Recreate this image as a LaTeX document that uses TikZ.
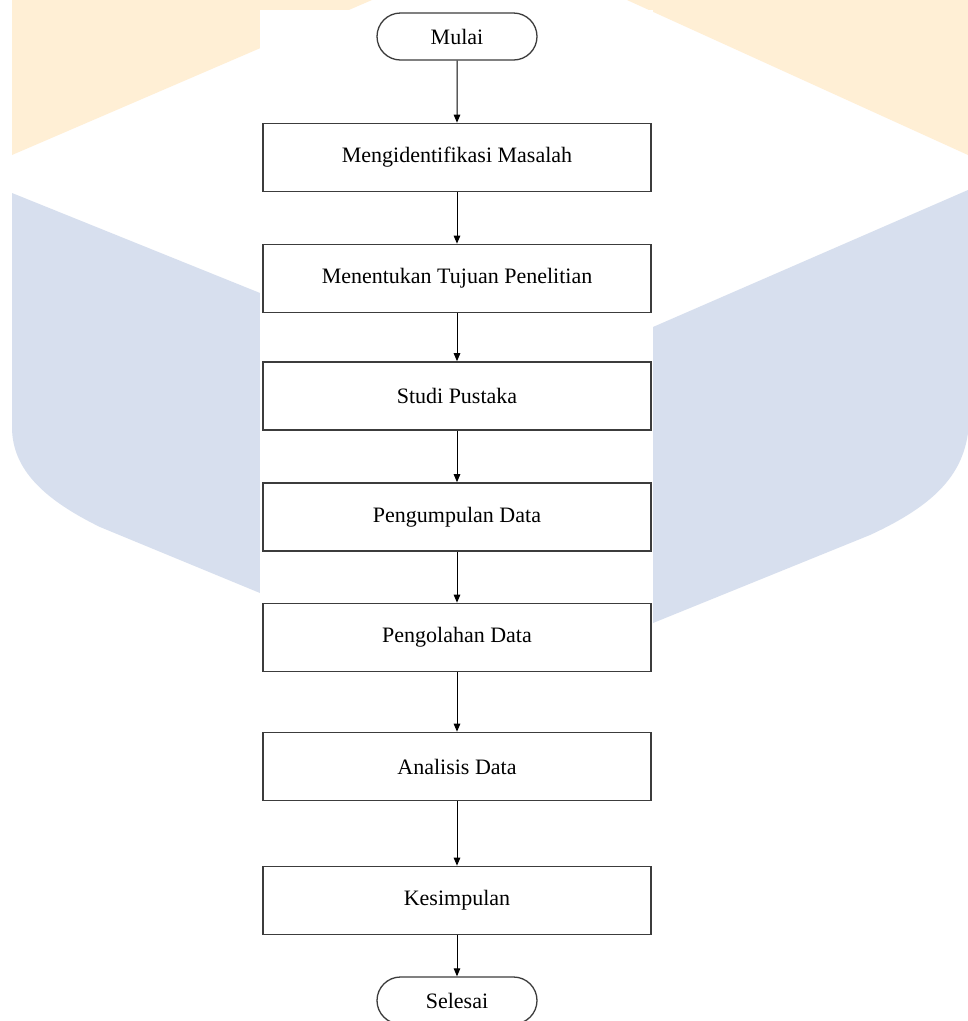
\documentclass[tikz,border=0pt]{standalone}
\usepackage{fontspec}
\setmainfont{Liberation Serif}
\usetikzlibrary{arrows.meta,shapes.misc}
\definecolor{wmyellow}{RGB}{255,239,213}
\definecolor{wmblue}{RGB}{215,223,238}
\definecolor{boxline}{RGB}{60,60,60}
\tikzset{
  stepbox/.style={draw=boxline,line width=1.6pt,fill=white,minimum width=388pt,minimum height=68pt,inner sep=0pt,font=\fontsize{22}{26}\selectfont},
  termbox/.style={draw=boxline,line width=1.3pt,fill=white,rounded rectangle,minimum width=160pt,minimum height=47pt,inner sep=0pt,font=\fontsize{22}{26}\selectfont},
  flow/.style={draw=black,line width=1pt,-{Triangle[length=8pt,width=6.5pt]}},
}
\begin{document}
\begin{tikzpicture}[x=1pt,y=-1pt]
\clip (0,0) rectangle (968,1021);
\fill[white] (0,0) rectangle (968,1021);
% watermark
\fill[wmyellow] (12,0) -- (372,0) -- (12,155) -- cycle;
\fill[wmyellow] (627,0) -- (968,0) -- (968,155) -- cycle;
\fill[wmblue] (12,193) -- (260,293) -- (653,327) -- (968,190) -- (968,433)
  .. controls (962,475) and (935,505) .. (870,535) -- (653,623) -- (470,700) -- (260,593) -- (100,527)
  .. controls (45,500) and (12,470) .. (12,427) -- cycle;
\fill[white] (260,10) rectangle (653,1021);
% flowchart
\node[termbox] (mulai) at (457,36.5) {Mulai};
\node[stepbox] (s1) at (457,157.5) {Mengidentifikasi Masalah};
\node[stepbox] (s2) at (457,278.5) {Menentukan Tujuan Penelitian};
\node[stepbox] (s3) at (457,396) {Studi Pustaka};
\node[stepbox] (s4) at (457,517) {Pengumpulan Data};
\node[stepbox] (s5) at (457,637.5) {Pengolahan Data};
\node[stepbox] (s6) at (457,766.5) {Analisis Data};
\node[stepbox] (s7) at (457,900.5) {Kesimpulan};
\node[termbox] (selesai) at (457,1000.5) {Selesai};
\draw[flow] (mulai) -- (s1);
\draw[flow] (s1) -- (s2);
\draw[flow] (s2) -- (s3);
\draw[flow] (s3) -- (s4);
\draw[flow] (s4) -- (s5);
\draw[flow] (s5) -- (s6);
\draw[flow] (s6) -- (s7);
\draw[flow] (s7) -- (selesai);
\end{tikzpicture}
\end{document}
